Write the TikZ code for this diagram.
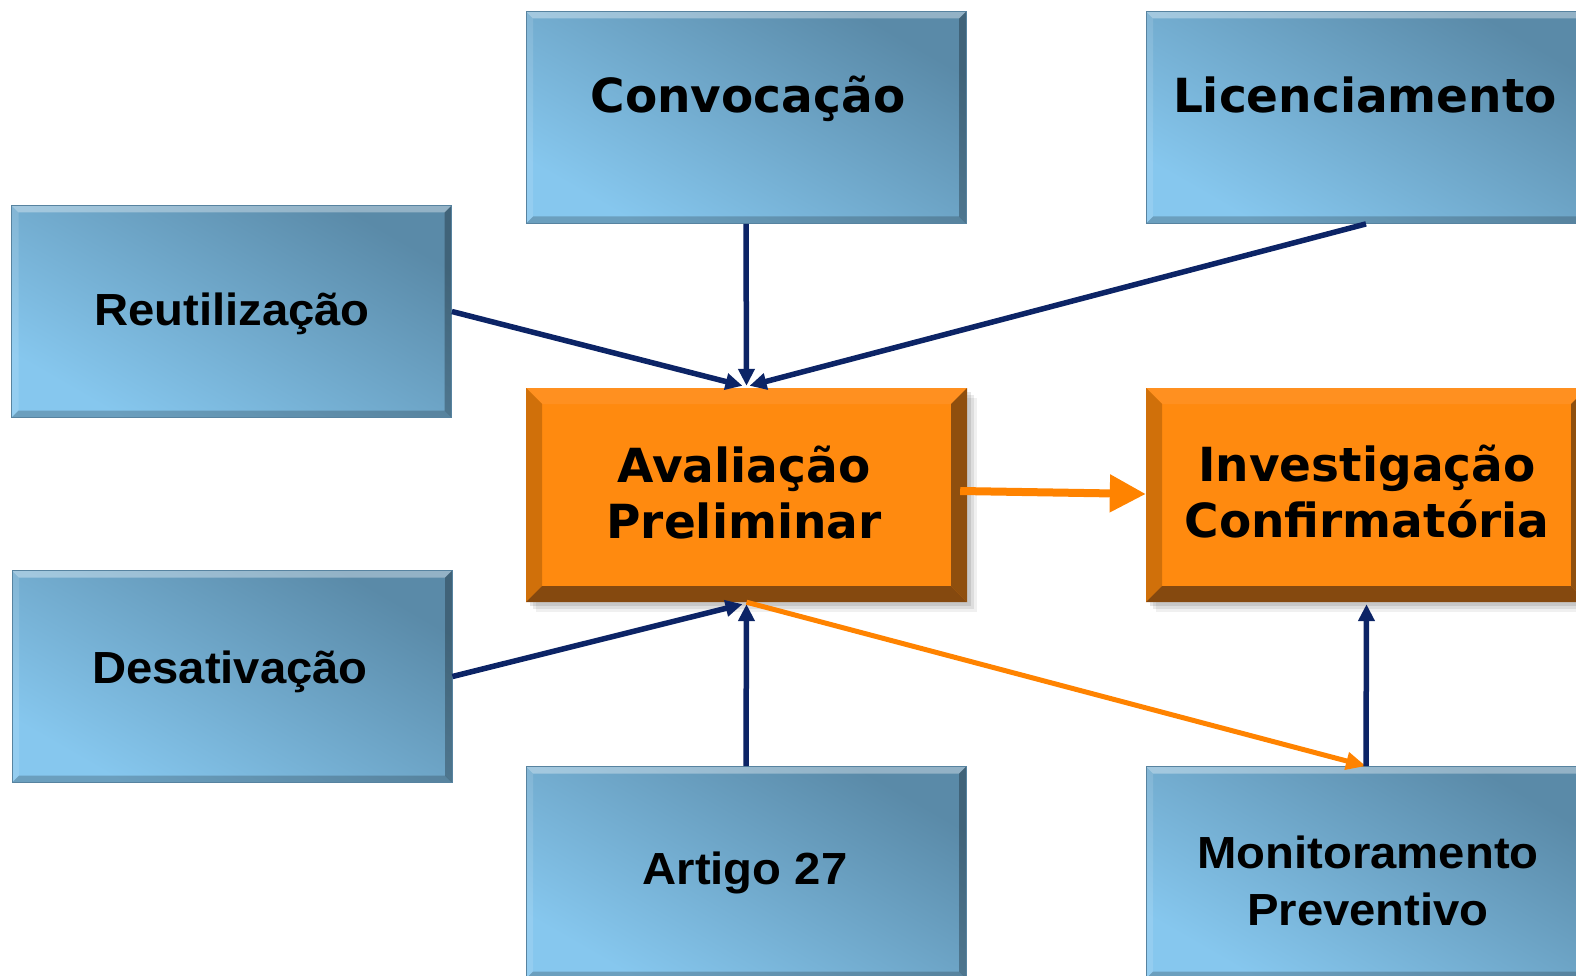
\documentclass[tikz,border=0pt]{standalone}
\usepackage{fontspec}
\newfontfamily\verd{DejaVu Sans}
\newfontfamily\arl{Liberation Sans}[FakeStretch=1.05]
\usetikzlibrary{arrows.meta,calc}
\definecolor{navyline}{HTML}{0C2466}
\definecolor{orline}{HTML}{FF8300}
\definecolor{blight}{HTML}{86C7EE}
\definecolor{bdark}{HTML}{5A8AA8}
\definecolor{oface}{HTML}{FF8A0F}
\definecolor{otop}{HTML}{FF9020}
\definecolor{oleft}{HTML}{D0700A}
\definecolor{oright}{HTML}{8F4F0E}
\definecolor{obottom}{HTML}{85490F}
\definecolor{bedge}{HTML}{5783A0}
\newcommand\bevelfaces[5]{%
 \fill[#2] (path picture bounding box.north west) -- (path picture bounding box.north east) -- ([xshift=-#1,yshift=-#1]path picture bounding box.north east) -- ([xshift=#1,yshift=-#1]path picture bounding box.north west) -- cycle;
 \fill[#3] (path picture bounding box.north west) -- (path picture bounding box.south west) -- ([xshift=#1,yshift=#1]path picture bounding box.south west) -- ([xshift=#1,yshift=-#1]path picture bounding box.north west) -- cycle;
 \fill[#4] (path picture bounding box.north east) -- (path picture bounding box.south east) -- ([xshift=-#1,yshift=#1]path picture bounding box.south east) -- ([xshift=-#1,yshift=-#1]path picture bounding box.north east) -- cycle;
 \fill[#5] (path picture bounding box.south west) -- (path picture bounding box.south east) -- ([xshift=-#1,yshift=#1]path picture bounding box.south east) -- ([xshift=#1,yshift=#1]path picture bounding box.south west) -- cycle;
}
\tikzset{
 bluebox/.style={rectangle, minimum width=440pt, minimum height=212pt, inner sep=0pt,
   draw=bedge, line width=0.8pt, top color=bdark, bottom color=blight, shading angle=-30,
   path picture={\bevelfaces{7pt}{white,opacity=.35}{white,opacity=.12}{black,opacity=.28}{black,opacity=.2}}},
 orangebox/.style={rectangle, minimum width=441pt, minimum height=214pt, inner sep=0pt,
   preaction={fill=black,fill opacity=0.10,transform canvas={xshift=4pt,yshift=-4pt}},
   preaction={fill=black,fill opacity=0.08,transform canvas={xshift=7pt,yshift=-7pt}},
   preaction={fill=black,fill opacity=0.06,transform canvas={xshift=10pt,yshift=-10pt}},
   fill=oface,
   path picture={\bevelfaces{16pt}{otop}{oleft}{oright}{obottom}}},
 vlab/.style={font=\verd\bfseries\fontsize{47}{56}\selectfont, inner sep=0pt, align=center, anchor=base},
 alab/.style={font=\arl\bfseries\fontsize{45}{57}\selectfont, inner sep=0pt, align=center, anchor=base},
 navyarr/.style={draw=navyline, line width=5.5pt, -{Triangle[length=17pt,width=16pt]}},
 orthin/.style={draw=orline, line width=5pt, -{Triangle[length=20pt,width=17pt]}},
 orbig/.style={draw=orline, line width=8pt, -{Triangle[length=36pt,width=36pt]}}
}
\begin{document}
\begin{tikzpicture}[x=1pt,y=-1pt]
\useasboundingbox (0,0) rectangle (1576,976);
% boxes
\node[bluebox] (conv) at (746,117.5) {};
\node[bluebox] (lic) at (1366,117.5) {};
\node[bluebox] (reut) at (231.5,311.5) {};
\node[orangebox] (aval) at (746.5,495) {};
\node[orangebox] (inv) at (1366.5,495) {};
\node[bluebox] (desat) at (232,676.5) {};
\node[bluebox] (art) at (746,872.5) {};
\node[bluebox] (mon) at (1366,872.5) {};
% labels
\node[vlab] (convT) at (748,113) {Convocação};
\node[vlab] (licT) at (1365,113) {Licenciamento};
\node[alab] (reutT) at (232,325) {Reutilização};
\node[vlab] (avalT) at (744,538) {Avaliação\\Preliminar};
\node[vlab] (invT) at (1367,537) {Investigação\\Confirmatória};
\node[alab] (desatT) at (230,683) {Desativação};
\node[alab] (artT) at (745,884) {Artigo 27};
\node[alab] (monT) at (1368,925) {Monitoramento\\Preventivo};
% connectors
\draw[navyarr] (conv.south) -- ([yshift=2pt]aval.north);
\draw[navyarr] (reut.east) -- ([xshift=-4pt,yshift=2pt]aval.north);
\draw[navyarr] (lic.south) -- ([xshift=3pt,yshift=2pt]aval.north);
\draw[navyarr] (desat.east) -- ([xshift=-4pt,yshift=-2pt]aval.south);
\draw[navyarr] (art.north) -- ([yshift=-2pt]aval.south);
\draw[orthin] (aval.south) -- (mon.north);
\draw[navyarr] (mon.north) -- ([yshift=-2pt]inv.south);
\draw[orbig] ([xshift=-7pt,yshift=4pt]aval.east) -- ([yshift=1pt]inv.west);
\end{tikzpicture}
\end{document}
